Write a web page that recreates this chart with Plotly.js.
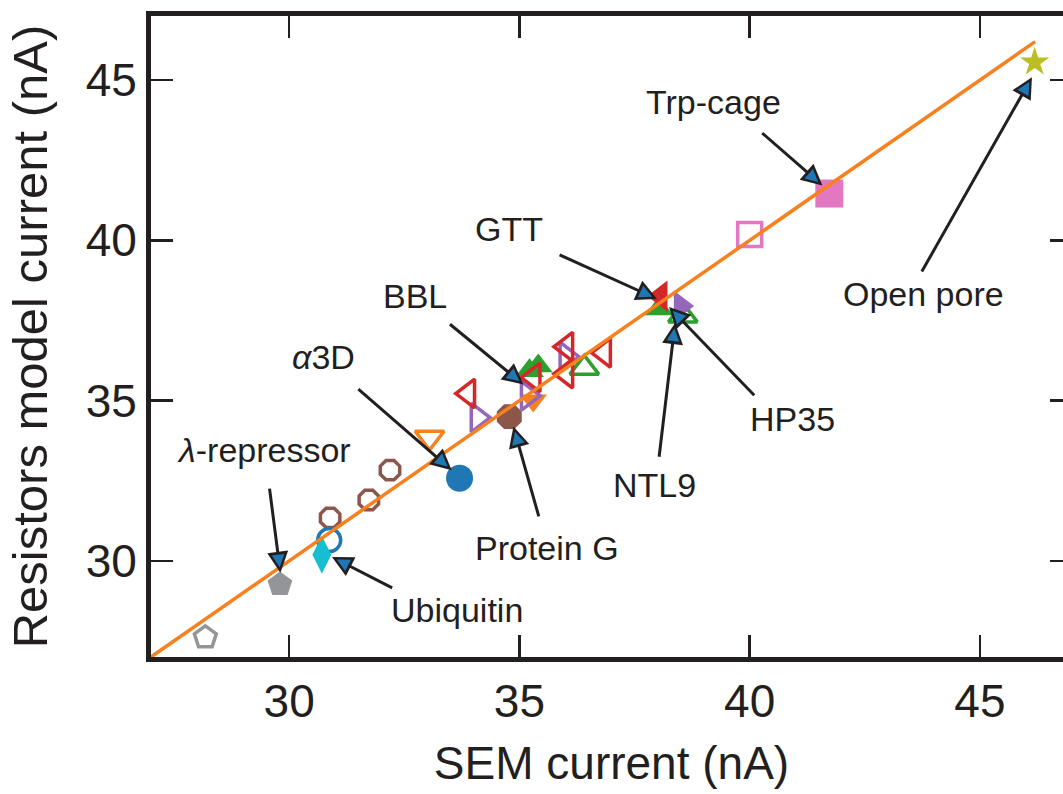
<!DOCTYPE html>
<html>
<head>
<meta charset="utf-8">
<script src="https://cdn.plot.ly/plotly-3.0.1.min.js"></script>
<style>
html,body{margin:0;padding:0;overflow:hidden;background:#fff;}
#chart{width:1075px;height:794px;}
</style>
</head>
<body>
<div id="chart"></div>
<script>
// ---- data (SEM current, Resistors model current), nA ----
const fitX = [27, 46.2];
const fitY = [27, 46.2];

const openPoreX = [46.19];  const openPoreY = [45.56];
const trpCageX = [41.73];   const trpCageY = [41.46];
const trpCageOpenX = [40.00]; const trpCageOpenY = [40.18];
const gttX = [38.07];       const gttY = [38.26];
const gttOpenX = [36.02, 36.84, 36.02, 35.31, 33.89];
const gttOpenY = [36.68, 36.49, 35.84, 35.72, 35.22];
const hp35X = [38.50];      const hp35Y = [37.95];
const hp35OpenX = [36.02, 35.18, 34.09];
const hp35OpenY = [36.37, 35.15, 34.47];
const ntl9X = [38.03, 35.41, 35.22];
const ntl9Y = [37.86, 36.08, 35.93];
const ntl9OpenX = [36.41, 38.55];
const ntl9OpenY = [36.02, 37.65];
const bblX = [35.30];       const bblY = [35.00];
const bblOpenX = [33.05];   const bblOpenY = [33.85];
const proteinGX = [34.78];  const proteinGY = [34.50];
const proteinGOpenX = [32.19, 31.73, 30.89];
const proteinGOpenY = [32.83, 31.90, 31.34];
const a3dX = [33.70];       const a3dY = [32.58];
const a3dOpenX = [30.87];   const a3dOpenY = [30.65];
const ubiquitinX = [30.71]; const ubiquitinY = [30.19];
const lambdaX = [29.80];    const lambdaY = [29.26];
const lambdaOpenX = [28.18]; const lambdaOpenY = [27.61];

const xTicks = [30, 35, 40, 45];
const yTicks = [30, 35, 40, 45];

// labels: text, label position, arrow tail, arrow tip
const labelText = ['Trp-cage', 'GTT', 'BBL', '<i>α</i>3D', '<i>λ</i>-repressor', 'Ubiquitin', 'Protein G', 'NTL9', 'HP35', 'Open pore'];

// ---- layout constants ----
const W = 1075, H = 794;
const M = {l: 151, r: 3, t: 16, b: 137};
const XR = [27, 47], YR = [27, 47];
const pxX = (W - M.l - M.r) / (XR[1] - XR[0]);
const pxY = (H - M.t - M.b) / (YR[1] - YR[0]);

const labelPos = [
  [39.22, 44.32], [34.78, 40.34], [32.73, 38.26], [30.74, 36.37], [29.46, 33.45],
  [33.64, 28.48], [35.61, 30.40], [37.94, 32.36], [40.93, 34.44], [43.77, 38.32]
];
const arrowTail = [
  [40.24, 43.39], [35.84, 39.57], [33.46, 37.42], [31.47, 35.40], [29.57, 32.30],
  [32.27, 29.13], [35.43, 31.34], [38.03, 33.20], [40.13, 35.12], [43.72, 38.98]
];
const arrowTip = [
  [41.58, 41.71], [37.99, 38.17], [35.09, 35.50], [33.53, 32.83], [29.81, 29.63],
  [30.93, 30.12], [34.87, 34.19], [38.38, 37.42], [38.25, 37.92], [46.13, 45.09]
];

const C = {
  blue: '#1f77b4', orange: '#f7801f', green: '#2ca02c', red: '#d62728',
  purple: '#9467bd', brown: '#8c564b', pink: '#e377c2', gray: '#939598',
  olive: '#bcbd22', cyan: '#17becf', ink: '#231f20'
};
const FONT = 'Liberation Sans, Arial, Helvetica, sans-serif';

function pts(name, x, y, symbol, color, size, open) {
  return {
    type: 'scatter', mode: 'markers', name: name, x: x, y: y,
    marker: {
      symbol: symbol, size: size, color: color,
      line: open ? {color: color, width: 3.5} : {width: 0}
    },
    hoverinfo: 'x+y'
  };
}

const traces = [
  pts('NTL9', ntl9X, ntl9Y, 'triangle-up', C.green, 25, false),
  pts('NTL9 open', ntl9OpenX, ntl9OpenY, 'triangle-up-open', C.green, 25, true),
  pts('BBL', bblX, bblY, 'triangle-down', C.orange, 24, false),
  pts('BBL open', bblOpenX, bblOpenY, 'triangle-down-open', C.orange, 25, true),
  pts('λ-repressor', lambdaX, lambdaY, 'pentagon', C.gray, 26, false),
  pts('λ-repressor open', lambdaOpenX, lambdaOpenY, 'pentagon-open', C.gray, 23, true),
  pts('Protein G', proteinGX, proteinGY, 'octagon', C.brown, 27, false),
  pts('Protein G open', proteinGOpenX, proteinGOpenY, 'octagon-open', C.brown, 21, true),
  pts('α3D', a3dX, a3dY, 'circle', C.blue, 27, false),
  pts('α3D open', a3dOpenX, a3dOpenY, 'circle-open', C.blue, 23, true),
  pts('Ubiquitin', ubiquitinX, ubiquitinY, 'diamond-tall', C.cyan, 27, false),
  pts('HP35 open', hp35OpenX, hp35OpenY, 'triangle-right-open', C.purple, 25, true),
  pts('GTT open', gttOpenX, gttOpenY, 'triangle-left-open', C.red, 25, true),
  pts('GTT', gttX, gttY, 'triangle-left', C.red, 27, false),
  pts('HP35', hp35X, hp35Y, 'triangle-right', C.purple, 27, false),
  pts('Trp-cage open', trpCageOpenX, trpCageOpenY, 'square-open', C.pink, 24, true),
  pts('Trp-cage', trpCageX, trpCageY, 'square', C.pink, 28, false),
  pts('Open pore', openPoreX, openPoreY, 'star', C.olive, 22, false),
  {type: 'scatter', mode: 'lines', name: 'fit', x: fitX, y: fitY,
   line: {color: C.orange, width: 3.5}, hoverinfo: 'skip'}
];

const annotations = [];
labelText.forEach((t, i) => {
  annotations.push({
    x: labelPos[i][0], y: labelPos[i][1], xref: 'x', yref: 'y',
    text: t, showarrow: false, xanchor: 'center', yanchor: 'middle',
    font: {family: FONT, size: 34, color: C.ink}
  });
});
// black arrows
arrowTip.forEach((p, i) => {
  annotations.push({
    x: p[0], y: p[1], ax: arrowTail[i][0], ay: arrowTail[i][1],
    xref: 'x', yref: 'y', axref: 'x', ayref: 'y',
    text: '', showarrow: true, arrowhead: 2, arrowsize: 1.4, arrowwidth: 3,
    arrowcolor: C.ink, standoff: 0
  });
});
// blue inner fill of arrow heads
arrowTip.forEach((p, i) => {
  const dxp = (arrowTail[i][0] - p[0]) * pxX;
  const dyp = (arrowTail[i][1] - p[1]) * pxY;
  const len = Math.hypot(dxp, dyp);
  const k = 16 / len;
  annotations.push({
    x: p[0], y: p[1],
    ax: p[0] + (arrowTail[i][0] - p[0]) * k, ay: p[1] + (arrowTail[i][1] - p[1]) * k,
    xref: 'x', yref: 'y', axref: 'x', ayref: 'y',
    text: '', showarrow: true, arrowhead: 2, arrowsize: 2.1, arrowwidth: 1.2,
    arrowcolor: C.blue, standoff: 5.5
  });
});

const axisCommon = {
  showgrid: false, zeroline: false,
  showline: true, linewidth: 5, linecolor: C.ink, mirror: 'ticks',
  ticks: 'inside', ticklen: 22, tickwidth: 2.5, tickcolor: C.ink,
  tickfont: {family: FONT, size: 46, color: C.ink}
};

const layout = {
  width: W, height: H, margin: M,
  paper_bgcolor: '#fff', plot_bgcolor: '#fff',
  showlegend: false,
  xaxis: Object.assign({}, axisCommon, {
    range: XR, tickvals: xTicks, ticktext: xTicks.map(String),
    title: {text: 'SEM current (nA)', font: {family: FONT, size: 46, color: C.ink}, standoff: 22}
  }),
  yaxis: Object.assign({}, axisCommon, {
    range: YR, tickvals: yTicks, ticktext: yTicks.map(String),
    title: {text: 'Resistors model current (nA)', font: {family: FONT, size: 49, color: C.ink}, standoff: 24}
  }),
  annotations: annotations
};

Plotly.newPlot('chart', traces, layout, {displayModeBar: false, staticPlot: true});
</script>
</body>
</html>
